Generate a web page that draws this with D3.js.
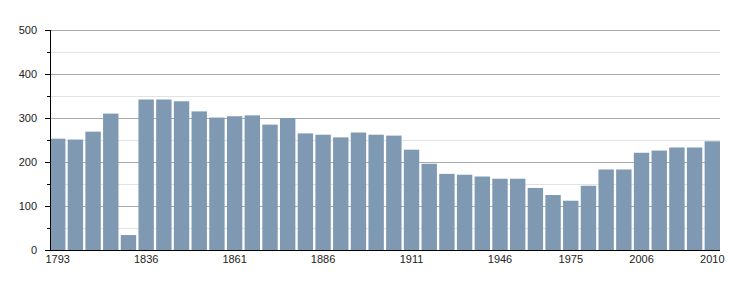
<!DOCTYPE html>
<html>
<head>
<meta charset="utf-8">
<script src="https://cdn.jsdelivr.net/npm/d3@7"></script>
<style>
  body { margin: 0; background: #fff; }
  svg { display: block; font-family: "Liberation Sans", Arial, sans-serif; }
</style>
</head>
<body>
<svg id="chart" width="750" height="300"></svg>
<script>
const years = ['1793', '1800', '1806', '1821', '1831', '1836', '1841', '1846', '1851', '1856',
  '1861', '1866', '1872', '1876', '1881', '1886', '1891', '1896', '1901', '1906',
  '1911', '1921', '1926', '1931', '1936', '1946', '1954', '1962', '1968', '1975',
  '1982', '1990', '1999', '2006', '2007', '2008', '2009', '2010'];
const population = [253, 251, 269, 310, 34, 342, 342, 338, 315, 301,
  304, 306, 285, 300, 265, 262, 256, 267, 262, 260,
  228, 196, 173, 171, 167, 162, 162, 141, 125, 112,
  146, 183, 183, 221, 226, 233, 233, 247];
const labelYears = ['1793', '1836', '1861', '1886', '1911', '1946', '1975', '2006', '2010'];
const yTicks = [0, 100, 200, 300, 400, 500];

const margin = { top: 30, right: 30, bottom: 50, left: 50 };
const width = 750 - margin.left - margin.right;
const height = 300 - margin.top - margin.bottom;

const svg = d3.select('#chart');
const chart = svg.append('g')
  .attr('transform', `translate(${margin.left},${margin.top})`);

const x = d3.scaleBand()
  .domain(years)
  .range([0, width])
  .paddingInner(0.13)
  .paddingOuter(0);

const y = d3.scaleLinear()
  .domain([0, 500])
  .range([height, 0]);

// minor grid every 50, major every 100
chart.append('g')
  .selectAll('line')
  .data(d3.range(50, 500, 100))
  .enter()
  .append('line')
  .attr('x1', 0)
  .attr('x2', width)
  .attr('y1', d => Math.round(y(d)) + 0.5)
  .attr('y2', d => Math.round(y(d)) + 0.5)
  .attr('stroke', '#e2e2e2');

chart.append('g')
  .selectAll('line')
  .data(yTicks.slice(1))
  .enter()
  .append('line')
  .attr('x1', -5)
  .attr('x2', width)
  .attr('y1', d => Math.round(y(d)) + 0.5)
  .attr('y2', d => Math.round(y(d)) + 0.5)
  .attr('stroke', '#aaaaaa');

// minor ticks on the axis
chart.append('g')
  .selectAll('line')
  .data(d3.range(50, 500, 100))
  .enter()
  .append('line')
  .attr('x1', -3)
  .attr('x2', 0)
  .attr('y1', d => Math.round(y(d)) + 0.5)
  .attr('y2', d => Math.round(y(d)) + 0.5)
  .attr('stroke', '#000');

chart.selectAll('.bar')
  .data(years.map((yr, i) => ({ year: yr, value: population[i] })))
  .enter()
  .append('rect')
  .attr('class', 'bar')
  .attr('x', d => x(d.year))
  .attr('y', d => y(d.value))
  .attr('width', x.bandwidth())
  .attr('height', d => height - y(d.value))
  .attr('fill', '#7f99b2');

const yAxis = d3.axisLeft(y)
  .tickValues(yTicks)
  .tickSize(5)
  .tickPadding(8);

const gy = chart.append('g').call(yAxis);
gy.select('.domain').remove();
gy.selectAll('.tick line').attr('stroke', '#000');
gy.selectAll('text').attr('font-size', 11).attr('fill', '#222')
  .attr('font-family', '"Liberation Sans", Arial, sans-serif');

const xAxis = d3.axisBottom(x)
  .tickValues(labelYears)
  .tickSize(0)
  .tickPadding(5);

const gx = chart.append('g')
  .attr('transform', `translate(0,${height})`)
  .call(xAxis);
gx.select('.domain').remove();
gx.selectAll('text').attr('font-size', 11).attr('fill', '#222')
  .attr('font-family', '"Liberation Sans", Arial, sans-serif');

// axis lines
chart.append('line')
  .attr('x1', 0).attr('x2', width)
  .attr('y1', height + 0.5).attr('y2', height + 0.5)
  .attr('stroke', '#000');
chart.append('line')
  .attr('x1', 0.5).attr('x2', 0.5)
  .attr('y1', 0).attr('y2', height + 1)
  .attr('stroke', '#000');
</script>
</body>
</html>
